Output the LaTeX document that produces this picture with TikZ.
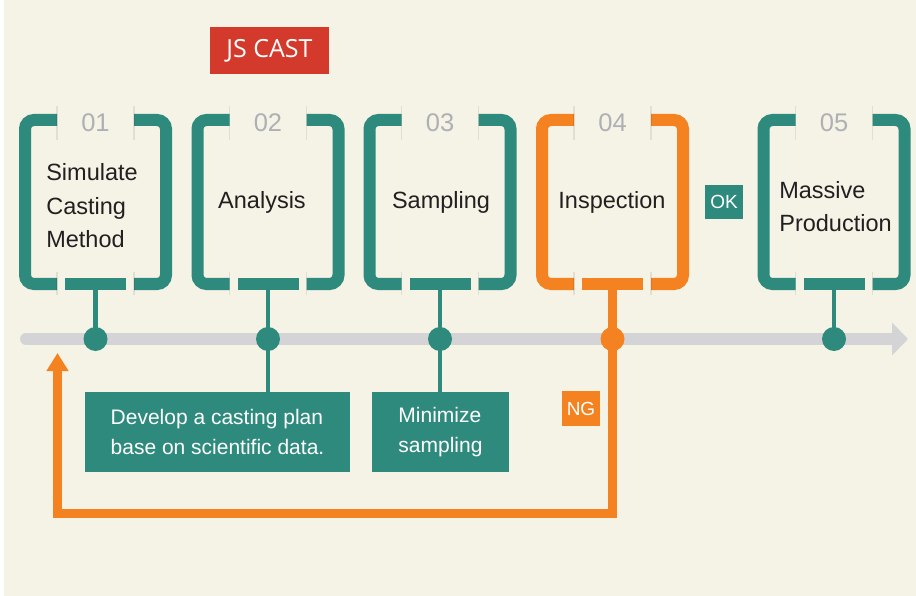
\documentclass[tikz,border=0pt]{standalone}
\usepackage{fontspec}
\setmainfont{Liberation Sans}
\newfontfamily\castfont{Open Sans}
\usetikzlibrary{arrows.meta,calc}
\definecolor{bgcream}{HTML}{F5F2E6}
\definecolor{jsgreen}{HTML}{2E8A7D}
\definecolor{jsorange}{HTML}{F58220}
\definecolor{jsred}{HTML}{D33A2C}
\definecolor{lineGrey}{HTML}{D4D4D6}
\definecolor{numgrey}{HTML}{AEB0B3}
\definecolor{ink}{HTML}{231F20}
\begin{document}
\begin{tikzpicture}[x=1pt,y=-1pt,
  bracketline/.style={line width=12pt, rounded corners=9pt},
  gapshade/.style={black, opacity=0.08, line width=1.2pt},
  stepnum/.style={font=\fontsize{25.5}{25.5}\selectfont, text=numgrey, inner sep=0pt},
  steptext/.style={font=\fontsize{23.5}{33.5}\selectfont, text=ink, align=left, inner sep=0pt},
  dotnode/.style={circle, minimum size=24pt, inner sep=0pt},
  notebox/.style={fill=jsgreen, text=white, font=\fontsize{21}{30}\selectfont, align=left, inner sep=0pt, minimum height=80pt},
  tagbox/.style={text=white, inner sep=0pt, font=\fontsize{19}{19}\selectfont},
  timeline/.style={lineGrey, line width=12pt, line cap=round},
  loopline/.style={jsorange, line width=9pt, line join=miter}
]
\useasboundingbox (0,0) rectangle (916,596);
\fill[white] (0,0) rectangle (4,596);
\fill[bgcream] (4,0) rectangle (916,596);

% title tag
\node[fill=jsred, text=white, minimum width=119pt, minimum height=47pt, inner sep=0pt,
      font=\castfont\fontsize{25}{25}\selectfont] (title) at (269.5,50.5) {JS CAST};

% timeline
\coordinate (tlstart) at (26,339);
\coordinate (tlend) at (908,339);
\draw[timeline, -{Triangle[width=32pt,length=16pt]}] (tlstart) -- (tlend);

% brackets, numbers, dots
\foreach \cx/\col/\num [count=\i] in {95.5/jsgreen/01, 268/jsgreen/02, 440/jsgreen/03, 612.5/jsorange/04, 834/jsgreen/05}{
  \draw[\col, bracketline] (\cx-38.5,120) -- (\cx-70.5,120) -- (\cx-70.5,284) -- (\cx-38.5,284);
  \draw[\col, bracketline] (\cx+38.5,120) -- (\cx+70.5,120) -- (\cx+70.5,284) -- (\cx+38.5,284);
  \fill[\col] (\cx-30.5,278) rectangle (\cx+30.5,290);
  \draw[gapshade] (\cx-38.5,106) -- (\cx-38.5,140);
  \draw[gapshade] (\cx+38.5,106) -- (\cx+38.5,140);
  \draw[gapshade] (\cx-38.5,272) -- (\cx-38.5,295);
  \draw[gapshade] (\cx+38.5,272) -- (\cx+38.5,295);
  \node[stepnum] (num\i) at (\cx,123) {\num};
  \coordinate (p\i) at (\cx,290);
}

% notes
\node[notebox, minimum width=265pt] (n2) at (217.5,432) {Develop a casting plan\\base on scientific data.};
\node[notebox, minimum width=137pt] (n3) at (440.5,432) {Minimize\\sampling};

% stems
\draw[jsgreen, line width=4.5pt] (p1) -- (95.5,339);
\draw[jsgreen, line width=4.5pt] (p2) -- (p2 |- n2.north);
\draw[jsgreen, line width=4.5pt] (p3) -- (p3 |- n3.north);
\draw[jsgreen, line width=4.5pt] (p5) -- (834,339);

% orange feedback loop
\coordinate (lc1) at (612.5,513);
\coordinate (lc2) at (57.5,513);
\coordinate (lend) at (57.5,353);
\draw[loopline, -{Triangle[width=21pt,length=18pt]}] (p4) -- (lc1) -- (lc2) -- (lend);

% dots
\node[dotnode, fill=jsgreen] (d1) at (95.5,339) {};
\node[dotnode, fill=jsgreen] (d2) at (268,339) {};
\node[dotnode, fill=jsgreen] (d3) at (440,339) {};
\node[dotnode, fill=jsorange] (d4) at (612.5,339) {};
\node[dotnode, fill=jsgreen] (d5) at (834,339) {};

% step texts
\node[steptext] (s1) at (92,206) {Simulate\\Casting\\Method};
\node[steptext] (s2) at (262,202.5) {Analysis};
\node[steptext] (s3) at (441,202.5) {Sampling};
\node[steptext] (s4) at (612,202.5) {Inspection};
\node[steptext] (s5) at (835.5,206.5) {Massive\\Production};

% tags
\node[tagbox, fill=jsgreen, minimum width=38pt, minimum height=34pt] (ok) at (724,202) {OK};
\node[tagbox, fill=jsorange, minimum width=38pt, minimum height=35pt] (ng) at (581,408.5) {NG};
\end{tikzpicture}
\end{document}
